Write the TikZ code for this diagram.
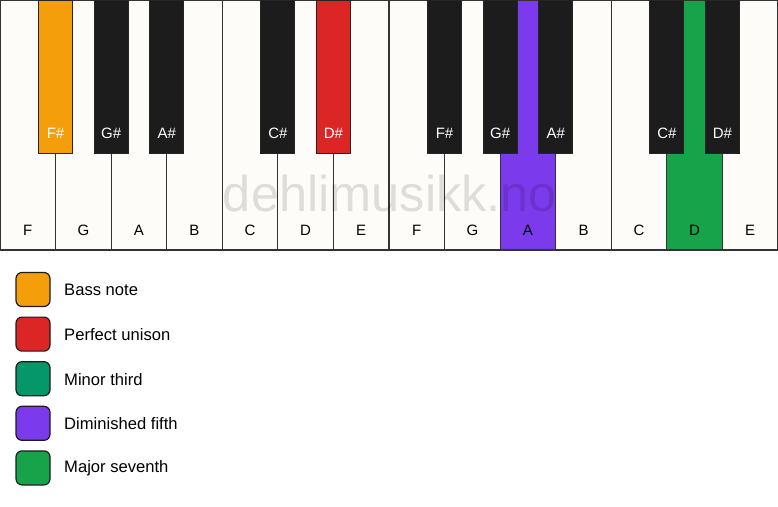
\documentclass[tikz,border=0pt]{standalone}
\usepackage{fontspec}
\setmainfont{Liberation Sans}
\definecolor{keywhite}{HTML}{FDFCF9}
\definecolor{keyblack}{HTML}{1C1C1C}
\definecolor{keyline}{HTML}{333333}
\definecolor{cbass}{HTML}{F59E0B}
\definecolor{cunison}{HTML}{DC2626}
\definecolor{cthird}{HTML}{059669}
\definecolor{cfifth}{HTML}{7C3AED}
\definecolor{cseventh}{HTML}{16A34A}
\tikzset{
  whitekey/.style={draw=keyline, line width=1.1pt, fill=keywhite, minimum width=55.571pt, minimum height=250pt, anchor=north west, inner sep=0pt, outer sep=0pt},
  blackkey/.style={draw=keyline!70!black, line width=1pt, fill=keyblack, minimum width=34pt, minimum height=153pt, anchor=north, inner sep=0pt, outer sep=0pt},
  wlabel/.style={font=\fontsize{15}{18}\selectfont, text=black, inner sep=0pt},
  blabel/.style={font=\fontsize{15}{18}\selectfont, text=white, inner sep=0pt},
  legendbox/.style={draw=keyblack, line width=1.2pt, rounded corners=6pt, minimum width=34pt, minimum height=34pt, inner sep=0pt},
  legendtext/.style={font=\fontsize{16.6}{19}\selectfont, anchor=west, inner sep=0pt},
}
\begin{document}
\begin{tikzpicture}[x=1pt,y=-1pt]
\useasboundingbox (0,0) rectangle (778,506);
\fill[white] (0,0) rectangle (778,506);
% white keys
\foreach \n/\l/\c in {0/F/keywhite,1/G/keywhite,2/A/keywhite,3/B/keywhite,4/C/keywhite,5/D/keywhite,6/E/keywhite,7/F/keywhite,8/G/keywhite,9/A/cfifth,10/B/keywhite,11/C/keywhite,12/D/cseventh,13/E/keywhite}{
  \node[whitekey, fill=\c] (w\n) at ({\n*55.571},0) {};
  \node[wlabel] (wl\n) at ({\n*55.571+27.786},230.5) {\l};
}
% black keys
\foreach \b/\l/\c in {1/F\#/cbass,2/G\#/keyblack,3/A\#/keyblack,5/C\#/keyblack,6/D\#/cunison,8/F\#/keyblack,9/G\#/keyblack,10/A\#/keyblack,12/C\#/keyblack,13/D\#/keyblack}{
  \node[blackkey, fill=\c] (b\b) at ({\b*55.571},0) {};
  \node[blabel] (bl\b) at ({\b*55.571},133.5) {\l};
}
% watermark
\node[font=\fontsize{50.5}{58}\selectfont, text=black, text opacity=0.12, inner sep=0pt] (wm) at (390,193) {dehlimusikk.no};
% legend
\foreach \i/\c/\t in {0/cbass/Bass note,1/cunison/Perfect unison,2/cthird/Minor third,3/cfifth/Diminished fifth,4/cseventh/Major seventh}{
  \node[legendbox, fill=\c] (lb\i) at (33,{289.5+\i*44.6}) {};
  \node[legendtext] (lt\i) at (64,{290+\i*44.6}) {\t};
}
\end{tikzpicture}
\end{document}
